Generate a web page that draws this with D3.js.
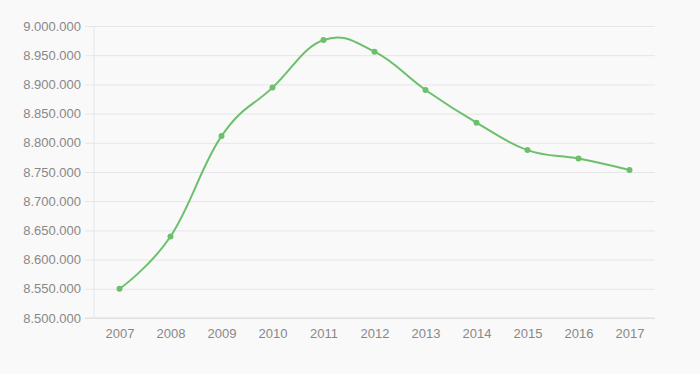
<!DOCTYPE html>
<html>
<head>
<meta charset="utf-8">
<script src="https://cdn.jsdelivr.net/npm/d3@7"></script>
<style>
  html, body { margin: 0; padding: 0; background: #f9f9f9; }
  svg { display: block; font-family: "Liberation Sans", Arial, sans-serif; }
</style>
</head>
<body>
<div id="chart"></div>
<script>
(function() {

    var years = ["2007", "2008", "2009", "2010", "2011", "2012", "2013", "2014", "2015", "2016", "2017"]
    var population = [8550000, 8639500, 8811500, 8894500, 8976000, 8956000, 8890500, 8834500, 8787500, 8773000, 8753500]
    var yTicks = [8500000, 8550000, 8600000, 8650000, 8700000, 8750000, 8800000, 8850000, 8900000, 8950000, 9000000]

    var width = 700,
    height = 374

    var left = 94, right = 655, top = 26, bottom = 318

    var de = d3.formatLocale({decimal: ",", thousands: ".", grouping: [3], currency: ["", " €"]})
    var fmt = de.format(",d")

    var svg = d3.select("#chart")
    .append("svg")
    .attr("width", width)
    .attr("height", height)

    svg.append("rect")
    .attr("width", width)
    .attr("height", height)
    .attr("fill", "#f9f9f9")

    var x = d3.scalePoint().domain(years).range([left, right]).padding(0.5)
    var y = d3.scaleLinear().domain([8500000, 9000000]).range([bottom, top])

    // horizontal grid, running a bit left of the axis like tick marks
    var yAxis = d3.axisLeft(y)
        .tickValues(yTicks)
        .tickFormat(fmt)
        .tickSize(-(right - left))
        .tickPadding(4)

    var gy = svg.append("g")
        .attr("transform", "translate(" + left + ",0)")
        .call(yAxis)

    gy.select(".domain").remove()
    gy.selectAll(".tick line")
        .attr("x1", -9)
        .attr("stroke", "#e6e6e6")
    gy.selectAll(".tick text")
        .attr("x", -13)
        .attr("fill", "#888")
        .style("font-size", "13px")

    // y axis line
    svg.append("line")
        .attr("x1", left).attr("x2", left)
        .attr("y1", top).attr("y2", bottom)
        .attr("stroke", "#e6e6e6")

    // x axis
    var gx = svg.append("g")
        .attr("transform", "translate(0," + bottom + ")")
        .call(d3.axisBottom(x).tickSize(0).tickPadding(11))

    gx.select(".domain")
        .attr("d", "M" + (left - 9) + ",0H" + right)
        .attr("stroke", "#dcdcdc")
    gx.selectAll(".tick text")
        .attr("fill", "#888")
        .style("font-size", "13px")

    var line = d3.line()
        .x(function(d, i) { return x(years[i]) })
        .y(function(d) { return y(d) })
        .curve(d3.curveCardinal.tension(-0.2))

    svg.append("path")
        .datum(population)
        .attr("d", line)
        .attr("fill", "none")
        .attr("stroke", "#6cc06c")
        .attr("stroke-width", 2)

    svg.selectAll(".dot")
        .data(population)
        .enter().append("circle")
        .attr("class", "dot")
        .attr("cx", function(d, i) { return x(years[i]) })
        .attr("cy", function(d) { return y(d) })
        .attr("r", 3)
        .attr("fill", "#6cc06c")

})();
</script>
</body>
</html>
